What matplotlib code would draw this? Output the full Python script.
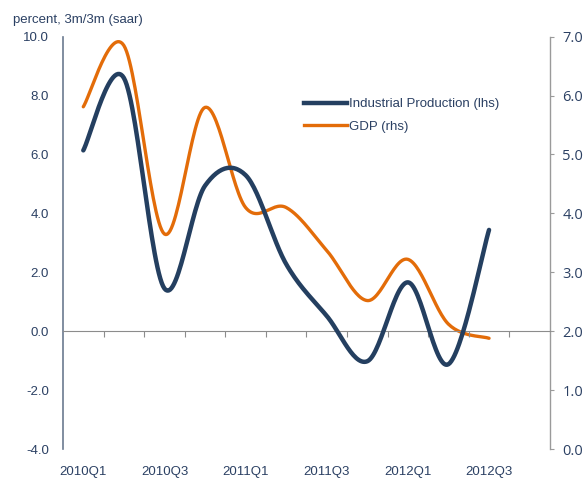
import numpy as np
import matplotlib
matplotlib.use("Agg")
import matplotlib.pyplot as plt
from matplotlib.lines import Line2D

quarters = ["2010Q1", "2010Q2", "2010Q3", "2010Q4", "2011Q1", "2011Q2",
            "2011Q3", "2011Q4", "2012Q1", "2012Q2", "2012Q3", "2012Q4"]
ip = [6.14, 8.6, 1.45, 4.94, 5.3, 2.28, 0.52, -1.02, 1.66, -1.12, 3.44]
gdp = [5.81, 6.85, 3.65, 5.80, 4.1, 4.1, 3.37, 2.52, 3.22, 2.12, 1.88]

left_ticks = [-4, -2, 0, 2, 4, 6, 8, 10]
right_ticks = [0, 1, 2, 3, 4, 5, 6, 7]

navy = "#243F60"
orange = "#E36C09"
text_col = "#2B4063"


def smooth(y, n=30):
    # excel style smoothed line (catmull-rom through the points)
    x = np.arange(len(y), dtype=float)
    y = np.asarray(y, dtype=float)
    px = np.concatenate([[x[0]], x, [x[-1]]])
    py = np.concatenate([[y[0]], y, [y[-1]]])
    xs, ys = [], []
    t = np.linspace(0, 1, n)
    for i in range(1, len(px) - 2):
        for p, out in ((px, xs), (py, ys)):
            p0, p1, p2, p3 = p[i - 1], p[i], p[i + 1], p[i + 2]
            m1 = (p2 - p0) / 2
            m2 = (p3 - p1) / 2
            h00 = 2 * t**3 - 3 * t**2 + 1
            h10 = t**3 - 2 * t**2 + t
            h01 = -2 * t**3 + 3 * t**2
            h11 = t**3 - t**2
            out.append(h00 * p1 + h10 * m1 + h01 * p2 + h11 * m2)
    return np.concatenate(xs), np.concatenate(ys)


fig = plt.figure(figsize=(5.85, 4.79), dpi=100)
ax = fig.add_axes([0.1077, 0.0626, 0.8323, 0.8608])
ax2 = ax.twinx()

x_ip, y_ip = smooth(ip)
x_gdp, y_gdp = smooth(gdp)
ax.plot(x_ip, y_ip, color=navy, lw=3.2, solid_capstyle="round", zorder=3)
ax2.plot(x_gdp, y_gdp, color=orange, lw=2.4, solid_capstyle="round", zorder=2)
ax.set_zorder(ax2.get_zorder() + 1)
ax.patch.set_visible(False)

n = len(quarters)
ax.set_xlim(-0.5, n - 0.5)
ax.set_ylim(-4, 10)
ax2.set_ylim(0, 7)

ax.set_yticks(left_ticks)
ax.set_yticklabels([f"{v:.1f}" for v in left_ticks], fontsize=9.5,
                   color=text_col, family="Liberation Sans")
ax.tick_params(axis="y", length=0, pad=10)
ax2.set_yticks(right_ticks)
ax2.set_yticklabels([f"{v:.1f}" for v in right_ticks], fontsize=10.5,
                    color=text_col, family="Open Sans")
ax2.tick_params(axis="y", length=3, width=0.8, color="#9A9A9A", pad=6)

# x axis line at zero with ticks at quarter boundaries
ax.spines["bottom"].set_position(("data", 0))
ax.spines["bottom"].set_color("#8C8C8C")
ax.set_xticks(np.arange(0.5, n - 0.5, 1))
ax.set_xticklabels([])
ax.tick_params(axis="x", length=4, width=0.8, color="#8C8C8C", direction="out")

sec = ax.secondary_xaxis("bottom")
sec.set_xticks(np.arange(0, n, 2))
sec.set_xticklabels(quarters[::2], fontsize=9.5, color=text_col,
                    family="Liberation Sans")
sec.tick_params(length=0, pad=12)
sec.spines["bottom"].set_visible(False)

for a in (ax, ax2):
    a.spines["top"].set_visible(False)
ax.spines["right"].set_visible(False)
ax2.spines["bottom"].set_visible(False)
ax2.spines["left"].set_visible(False)
ax.spines["left"].set_color("#6B7A90")
ax.spines["left"].set_linewidth(1.2)
ax2.spines["right"].set_color("#9A9A9A")
ax2.spines["right"].set_linewidth(1.0)

fig.text(0.022, 0.958, "percent, 3m/3m (saar)", fontsize=9.5, color=text_col,
         family="Liberation Sans", va="center", ha="left")

handles = [Line2D([], [], color=navy, lw=3.2),
           Line2D([], [], color=orange, lw=2.4)]
leg = ax.legend(handles, ["Industrial Production (lhs)", "GDP (rhs)"],
                loc="upper left", bbox_to_anchor=(0.47, 0.88), frameon=False,
                handlelength=3.3, handletextpad=0.15, labelspacing=0.8,
                prop={"family": "Liberation Sans", "size": 9.5})
for t in leg.get_texts():
    t.set_color(text_col)

fig.savefig("out.png", dpi=100)
